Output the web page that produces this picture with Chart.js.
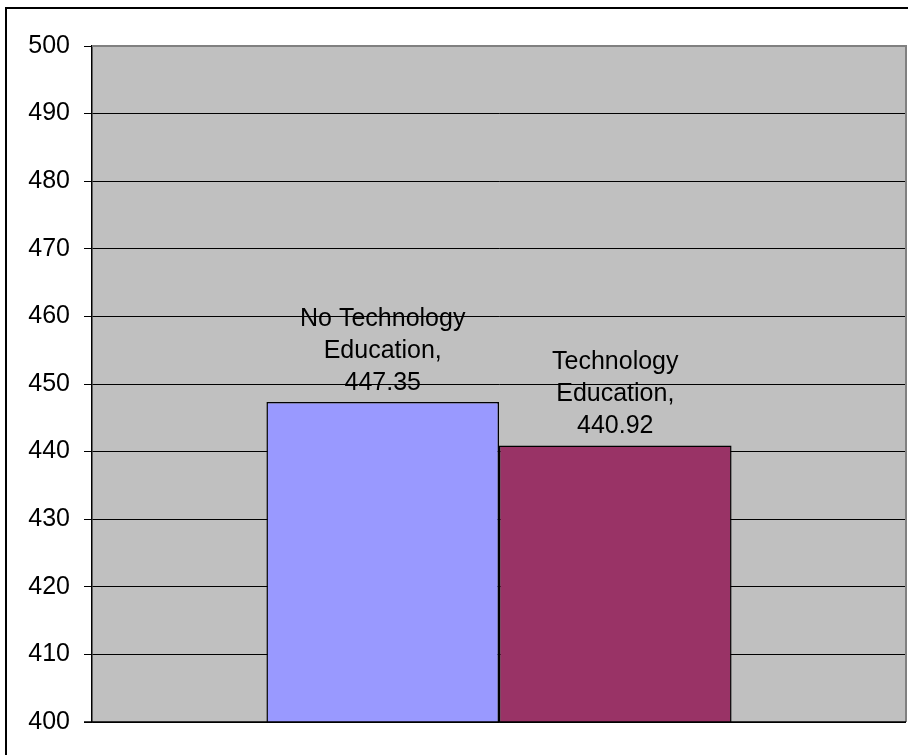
<!DOCTYPE html>
<html>
<head>
<meta charset="utf-8">
<script src="https://cdn.jsdelivr.net/npm/chart.js@4/dist/chart.umd.min.js"></script>
<style>
  body { margin: 0; background: #fff; }
  #wrap { width: 908px; height: 755px; }
</style>
</head>
<body>
<div id="wrap"><canvas id="scoreChart" width="908" height="755"></canvas></div>
<script>
// values
const categories = [''];
const seriesNames = ['No Technology Education', 'Technology Education'];
const seriesValues = [447.35, 440.92];
const seriesColors = ['#9999FF', '#993366'];
const yTicks = [400, 410, 420, 430, 440, 450, 460, 470, 480, 490, 500];

const FONT = '"Liberation Sans", Arial, sans-serif';

// gray plot area + outer frame
const backdrop = {
  id: 'backdrop',
  beforeDraw(chart) {
    const { ctx, chartArea: a } = chart;
    ctx.save();
    ctx.fillStyle = '#fff';
    ctx.fillRect(0, 0, chart.width, chart.height);
    ctx.fillStyle = '#C0C0C0';
    ctx.fillRect(a.left, a.top, a.right - a.left, a.bottom - a.top);
    // frame around the whole figure (only top and left visible)
    ctx.strokeStyle = '#000';
    ctx.lineWidth = 2;
    ctx.beginPath();
    ctx.moveTo(6, chart.height);
    ctx.lineTo(6, 8);
    ctx.lineTo(chart.width, 8);
    ctx.stroke();
    ctx.restore();
  },
  afterDraw(chart) {
    const { ctx, chartArea: a } = chart;
    ctx.save();
    ctx.strokeStyle = '#808080';
    ctx.lineWidth = 2;
    ctx.beginPath();
    ctx.moveTo(a.left, a.top);
    ctx.lineTo(a.right, a.top);
    ctx.lineTo(a.right, a.bottom);
    ctx.stroke();
    ctx.strokeStyle = '#000';
    ctx.lineWidth = 1.5;
    ctx.beginPath();
    ctx.moveTo(a.left - 8, a.bottom);
    ctx.lineTo(a.right, a.bottom);
    ctx.stroke();
    ctx.restore();
  }
};

// "Series name, value" labels above each bar, wrapped like the original
const barLabels = {
  id: 'barLabels',
  afterDatasetsDraw(chart) {
    const { ctx } = chart;
    ctx.save();
    ctx.font = '25px ' + FONT;
    ctx.fillStyle = '#000';
    ctx.textAlign = 'center';
    ctx.textBaseline = 'middle';
    chart.data.datasets.forEach((ds, i) => {
      const bar = chart.getDatasetMeta(i).data[0];
      const name = seriesNames[i];
      const cut = name.lastIndexOf(' ');
      const lines = [name.slice(0, cut), name.slice(cut + 1) + ',', ds.data[0].toFixed(2)];
      lines.forEach((t, k) => {
        ctx.fillText(t, bar.x, bar.y - 19 - (lines.length - 1 - k) * 32);
      });
    });
    ctx.restore();
  }
};

new Chart(document.getElementById('scoreChart'), {
  type: 'bar',
  data: {
    labels: categories,
    datasets: seriesNames.map((name, i) => ({
      label: name,
      data: [seriesValues[i]],
      backgroundColor: seriesColors[i],
      borderColor: '#000',
      borderWidth: 1.5,
      borderSkipped: false,
      barPercentage: 1,
      categoryPercentage: 2 / 3.5
    }))
  },
  options: {
    responsive: false,
    animation: false,
    devicePixelRatio: 1,
    layout: { padding: { left: 0, top: 46, right: 2, bottom: 33 } },
    plugins: {
      legend: { display: false },
      tooltip: { enabled: false }
    },
    scales: {
      x: { display: false },
      y: {
        min: 400,
        max: 500,
        afterFit(scale) { scale.width = 92; },
        afterBuildTicks(scale) { scale.ticks = yTicks.map(v => ({ value: v })); },
        ticks: {
          color: '#000',
          padding: 14,
          font: { family: FONT, size: 25 }
        },
        grid: {
          color: '#000',
          lineWidth: 1,
          tickLength: 8,
          tickColor: '#000'
        },
        border: { color: '#000', width: 1.5 }
      }
    }
  },
  plugins: [backdrop, barLabels]
});
</script>
</body>
</html>
